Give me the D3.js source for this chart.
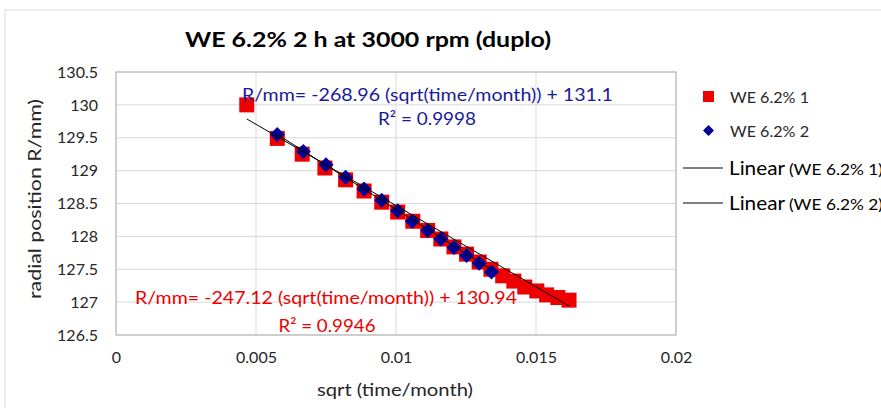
<!DOCTYPE html>
<html><head><meta charset="utf-8">
<script src="https://cdn.jsdelivr.net/npm/d3@7"></script>
<style>body{margin:0;background:#fff;} svg{display:block;font-family:Lato,"Liberation Sans",sans-serif;}</style>
</head><body><svg id="c" width="881" height="408"></svg>
<script>
const title = "WE 6.2% 2 h at 3000 rpm (duplo)";
const xTicks = [0, 0.005, 0.01, 0.015, 0.02];
const yTicks = [126.5, 127, 127.5, 128, 128.5, 129, 129.5, 130, 130.5];
const seriesNames = ["WE 6.2% 1", "WE 6.2% 2"];
const s1x = [0.00467,0.00576,0.00665,0.00746,0.0082,0.00886,0.00949,0.01006,0.0106,0.01113,0.0116,0.01207,0.01252,0.01297,0.01339,0.01381,0.01421,0.0146,0.01503,0.01538,0.01578,0.01618];
const s1y = [130.0,129.49,129.25,129.04,128.86,128.69,128.52,128.37,128.23,128.09,127.96,127.84,127.73,127.61,127.50,127.40,127.32,127.23,127.17,127.11,127.07,127.03];
const s2x = [0.00576,0.00669,0.0075,0.0082,0.00886,0.00949,0.01006,0.01058,0.01113,0.0116,0.01207,0.01252,0.01297,0.01341];
const s2y = [129.55,129.29,129.09,128.90,128.72,128.55,128.39,128.23,128.09,127.96,127.83,127.71,127.59,127.46];
const slopes = [-247.12, -268.96];
const intercepts = [130.94, 131.1];
const r2 = ["0.9946", "0.9998"];

const svg = d3.select("#c");
const x = d3.scaleLinear().domain([0, 0.02]).range([116, 676]);
const y = d3.scaleLinear().domain([126.5, 130.5]).range([335, 72]);

// chart outer border
svg.append("rect").attr("x",5).attr("y",10).attr("width",900).attr("height",420)
  .attr("fill","none").attr("stroke","#d9d9d9");

// gridlines
svg.append("g").selectAll("line").data(yTicks).join("line")
  .attr("x1",x(0)).attr("x2",x(0.02)).attr("y1",d=>y(d)).attr("y2",d=>y(d))
  .attr("stroke","#d9d9d9").attr("stroke-width",1);
svg.append("g").selectAll("line").data(xTicks).join("line")
  .attr("y1",y(126.5)).attr("y2",y(130.5)).attr("x1",d=>x(d)).attr("x2",d=>x(d))
  .attr("stroke","#d9d9d9").attr("stroke-width",1);
svg.append("rect").attr("x",x(0)).attr("y",y(130.5)).attr("width",x(0.02)-x(0)).attr("height",y(126.5)-y(130.5))
  .attr("fill","none").attr("stroke","#bfbfbf").attr("stroke-width",1.3);

// axes tick labels
const yAxis = d3.axisLeft(y).tickValues(yTicks).tickSize(0).tickPadding(18).tickFormat(d3.format("~g"));
const gy = svg.append("g").attr("transform",`translate(${x(0)},0)`).call(yAxis);
gy.select(".domain").remove();
gy.selectAll("text").attr("font-size",16).attr("fill","#262626").attr("font-family","Lato,sans-serif");
const xAxis = d3.axisBottom(x).tickValues(xTicks).tickSize(0).tickPadding(17).tickFormat(d3.format("~g"));
const gx = svg.append("g").attr("transform",`translate(0,${y(126.5)})`).call(xAxis);
gx.select(".domain").remove();
gx.selectAll("text").attr("font-size",16).attr("fill","#262626").attr("font-family","Lato,sans-serif");

// axis titles
svg.append("text").attr("x",395).attr("y",396).attr("text-anchor","middle")
  .attr("font-size",18).attr("fill","#262626")
  .attr("textLength",156).attr("lengthAdjust","spacingAndGlyphs").text("sqrt (time/month)");
svg.append("text").attr("transform","translate(41,199) rotate(-90)").attr("text-anchor","middle")
  .attr("font-size",18).attr("fill","#262626")
  .attr("textLength",200).attr("lengthAdjust","spacingAndGlyphs").text("radial position R/mm)");

// title
svg.append("text").attr("x",368).attr("y",47).attr("text-anchor","middle")
  .attr("font-size",21).attr("font-weight","bold").attr("fill","#000")
  .attr("textLength",366).attr("lengthAdjust","spacingAndGlyphs").text(title);

// series 1: red squares
const sq = 15;
svg.append("g").selectAll("rect").data(d3.zip(s1x,s1y)).join("rect")
  .attr("x",d=>x(d[0])-sq/2).attr("y",d=>y(d[1])-sq/2).attr("width",sq).attr("height",sq)
  .attr("fill","#ee0000");
// series 2: navy diamonds
const dm = 7.5;
svg.append("g").selectAll("path").data(d3.zip(s2x,s2y)).join("path")
  .attr("d",d=>{const cx=x(d[0]),cy=y(d[1]);return `M${cx},${cy-dm}L${cx+dm},${cy}L${cx},${cy+dm}L${cx-dm},${cy}Z`;})
  .attr("fill","#000099");

// trendlines
[[s1x,0],[s2x,1]].forEach(([xs,i])=>{
  const x0=d3.min(xs), x1=d3.max(xs);
  svg.append("line").attr("x1",x(x0)).attr("y1",y(slopes[i]*x0+intercepts[i]))
    .attr("x2",x(x1)).attr("y2",y(slopes[i]*x1+intercepts[i]))
    .attr("stroke","#000").attr("stroke-width",1);
});

// equation labels
svg.append("text").attr("x",242).attr("y",101).attr("font-size",17.5).attr("fill","#1a1a99")
  .attr("textLength",371).attr("lengthAdjust","spacingAndGlyphs")
  .text(`R/mm= ${slopes[1]} (sqrt(time/month)) + ${intercepts[1]}`);
svg.append("text").attr("x",427).attr("y",125).attr("text-anchor","middle").attr("font-size",17.5).attr("fill","#1a1a99")
  .attr("textLength",98).attr("lengthAdjust","spacingAndGlyphs")
  .text(`R² = ${r2[1]}`);
svg.append("text").attr("x",135).attr("y",304).attr("font-size",17.5).attr("fill","#ee0000")
  .attr("textLength",382).attr("lengthAdjust","spacingAndGlyphs")
  .text(`R/mm= ${slopes[0]} (sqrt(time/month)) + ${intercepts[0]}`);
svg.append("text").attr("x",327).attr("y",332).attr("text-anchor","middle").attr("font-size",17.5).attr("fill","#ee0000")
  .attr("textLength",97).attr("lengthAdjust","spacingAndGlyphs")
  .text(`R² = ${r2[0]}`);

// legend
const lg = svg.append("g");
lg.append("rect").attr("x",703).attr("y",91).attr("width",11).attr("height",11).attr("fill","#ee0000");
lg.append("text").attr("x",730).attr("y",103).attr("font-size",16).attr("fill","#262626")
  .attr("textLength",79).attr("lengthAdjust","spacingAndGlyphs").text(seriesNames[0]);
lg.append("path").attr("d","M708.5,125L714,130.5L708.5,136L703,130.5Z").attr("fill","#000099");
lg.append("text").attr("x",730).attr("y",137).attr("font-size",16).attr("fill","#262626")
  .attr("textLength",79).attr("lengthAdjust","spacingAndGlyphs").text(seriesNames[1]);
[[168,0],[203,1]].forEach(([ly,i])=>{
  lg.append("line").attr("x1",683).attr("x2",723).attr("y1",ly).attr("y2",ly).attr("stroke","#000").attr("stroke-width",1);
  const t = lg.append("text").attr("y",ly+7).attr("fill","#000");
  t.append("tspan").attr("x",729).attr("font-size",20).attr("textLength",56).attr("lengthAdjust","spacingAndGlyphs").text("Linear");
  t.append("tspan").attr("x",789).attr("font-size",15.5).attr("textLength",94).attr("lengthAdjust","spacingAndGlyphs").text(`(${seriesNames[i]})`);
});
</script></body></html>
